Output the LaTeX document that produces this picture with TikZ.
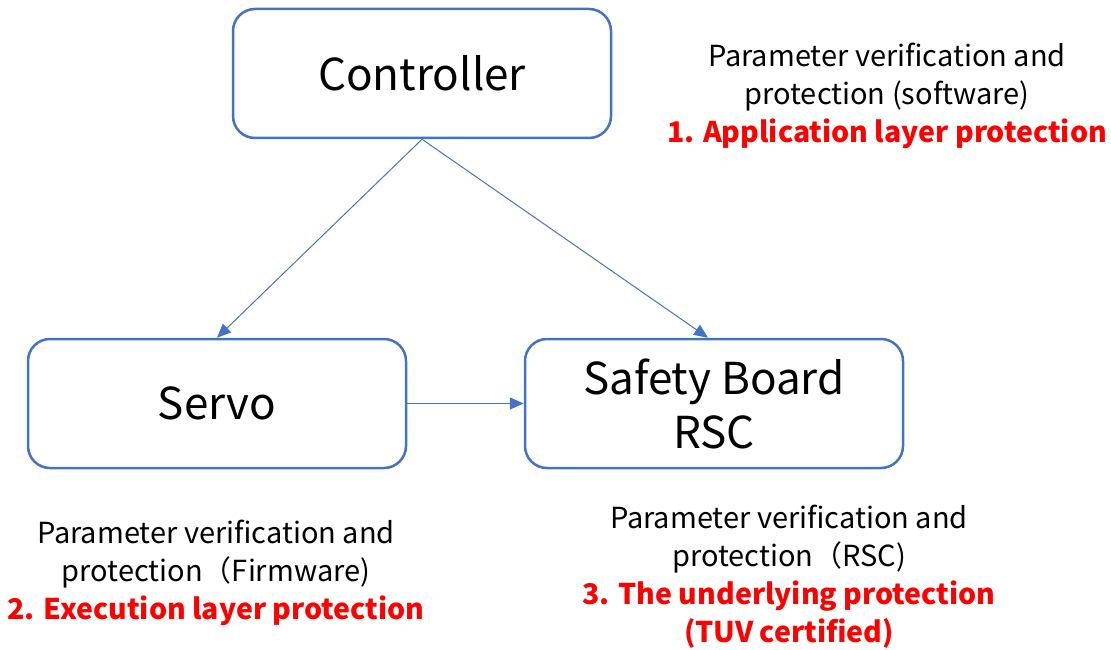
\documentclass[tikz,border=0pt]{standalone}
\usepackage{fontspec}
\setmainfont{Noto Sans CJK SC}
\usetikzlibrary{arrows.meta}
\definecolor{bblue}{HTML}{4472C4}
\definecolor{rred}{HTML}{FF0000}
\newcommand{\redline}[1]{{\color{rred}\bfseries\fontsize{28.5}{38}\selectfont #1}}
\begin{document}
\begin{tikzpicture}[x=1pt,y=-1pt,
  box/.style={draw=bblue, line width=2.5pt, rounded corners=22pt, minimum width=378pt, minimum height=129pt, align=center, font=\fontsize{44}{54}\selectfont, inner sep=0pt},
  conn/.style={draw=bblue, line width=1pt, -{Triangle[length=14pt,width=12pt]}},
  note/.style={align=center, font=\fontsize{29}{38}\selectfont, inner sep=0pt}]
\useasboundingbox (0,0) rectangle (1111,650);
\node[box] (ctrl) at (422,73.5) {Controller};
\node[box] (servo) at (217,403.5) {Servo};
\node[box] (safety) at (714,403.5) {Safety Board\\RSC};
\draw[conn] (ctrl.south) -- (servo.north);
\draw[conn] (ctrl.south) -- ([xshift=-6pt]safety.north);
\draw[conn] (servo.east) -- (safety.west);
\node[note] (n1) at (887,96) {Parameter verification and\\protection (software)\\\redline{1. Application layer protection}};
\node[note] (n2) at (216,573) {Parameter verification and\\protection（Firmware)\\\redline{2. Execution layer protection}};
\node[note] (n3) at (789,577) {Parameter verification and\\protection（RSC)\\\redline{3. The underlying protection}\\\redline{(TUV certified)}};
\end{tikzpicture}
\end{document}
